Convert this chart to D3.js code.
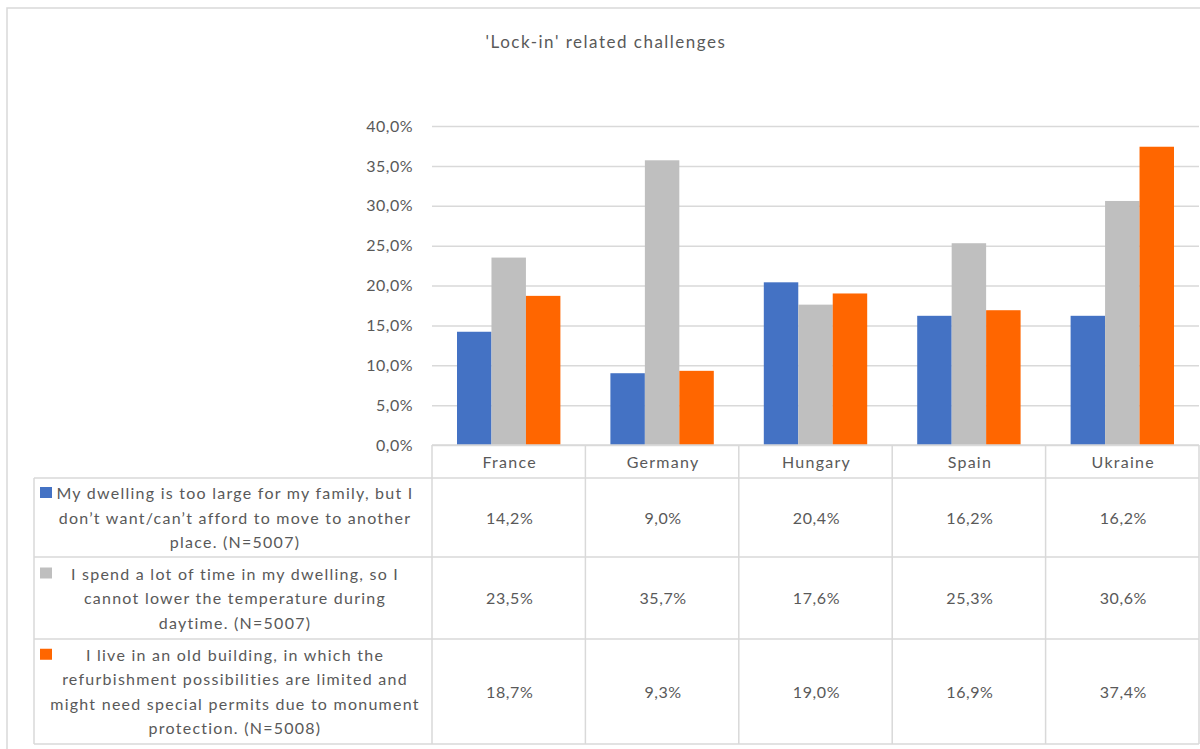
<!DOCTYPE html>
<html>
<head>
<meta charset="utf-8">
<script src="https://cdn.jsdelivr.net/npm/d3@7"></script>
<style>
  html, body { margin: 0; padding: 0; background: #fff; }
  svg { display: block; font-family: Lato, "Open Sans", sans-serif; }
</style>
</head>
<body>
<svg id="chart" width="1200" height="749"></svg>
<script>
// Categories, series and their values
const countries = ["France", "Germany", "Hungary", "Spain", "Ukraine"];
const seriesKeys = ["large", "time", "old"];
const seriesLabels = [
  ["My dwelling is too large for my family,  but I", "don\u2019t want/can\u2019t afford to move to another", "place. (N=5007)"],
  ["I spend a lot of time in my dwelling, so I", "cannot lower the temperature during", "daytime. (N=5007)"],
  ["I live in an old building, in which the", "refurbishment possibilities are limited and", "might need special permits due to monument", "protection. (N=5008)"]
];
const seriesColors = ["#4472C4", "#BFBFBF", "#FF6600"];
const largeValues = [0.142, 0.090, 0.204, 0.162, 0.162];
const timeValues  = [0.235, 0.357, 0.176, 0.253, 0.306];
const oldValues   = [0.187, 0.093, 0.190, 0.169, 0.374];
const yTicks = [0, 0.05, 0.10, 0.15, 0.20, 0.25, 0.30, 0.35, 0.40];
const title = "'Lock-in' related challenges";

const seriesValues = [largeValues, timeValues, oldValues];

const svg = d3.select("#chart");
const textColor = "#595959";
const lineColor = "#D9D9D9";
const fontSize = 16;
const spacing = "1.25px";

const locale = d3.formatLocale({ decimal: ",", thousands: ".", grouping: [3], currency: ["", "\u20AC"] });
const pct = locale.format(".1%");

// Layout
const plotLeft = 432, plotRight = 1199, plotTop = 126, plotBottom = 445;
const legendLeft = 34;
const rowEdges = [plotBottom, 478, 557, 639, 744];

// Outer chart frame
svg.append("rect")
  .attr("x", 7).attr("y", 8)
  .attr("width", 1210).attr("height", 760)
  .attr("fill", "none").attr("stroke", lineColor).attr("stroke-width", 1.5);

// Title
svg.append("text")
  .attr("x", 606).attr("y", 48)
  .attr("text-anchor", "middle")
  .attr("fill", textColor)
  .attr("font-size", 17)
  .attr("letter-spacing", "1.5px")
  .text(title);

const x0 = d3.scaleBand().domain(countries).range([plotLeft, plotRight]);
const bw = x0.bandwidth();
const groupPad = bw * 0.163;
const x1 = d3.scaleBand().domain(seriesKeys).range([groupPad, bw - groupPad]);
const y = d3.scaleLinear().domain([0, 0.4]).range([plotBottom, plotTop]);

// Gridlines and value axis
const yAxis = d3.axisLeft(y).tickValues(yTicks).tickFormat(pct).tickSize(-(plotRight - plotLeft)).tickPadding(19);
const yg = svg.append("g").attr("transform", `translate(${plotLeft},0)`).call(yAxis);
yg.select(".domain").remove();
yg.selectAll(".tick line").attr("stroke", lineColor).attr("stroke-width", 1.5);
yg.selectAll(".tick text")
  .attr("fill", textColor)
  .attr("font-size", fontSize)
  .attr("letter-spacing", "0.5px")
  .attr("font-family", "Lato, sans-serif");

// Bars
const groups = svg.append("g").selectAll("g")
  .data(countries)
  .join("g")
  .attr("transform", d => `translate(${x0(d)},0)`);

groups.selectAll("rect")
  .data((c, i) => seriesKeys.map((k, s) => ({ key: k, s, value: seriesValues[s][i] })))
  .join("rect")
  .attr("x", d => x1(d.key))
  .attr("width", x1.bandwidth())
  .attr("y", d => y(d.value))
  .attr("height", d => y(0) - y(d.value))
  .attr("fill", d => seriesColors[d.s]);

// Data table
const table = svg.append("g").attr("stroke", lineColor).attr("stroke-width", 1.5);
// horizontal rules
table.append("line").attr("x1", plotLeft).attr("x2", plotRight).attr("y1", rowEdges[0]).attr("y2", rowEdges[0]);
rowEdges.slice(1).forEach(ry => {
  table.append("line").attr("x1", legendLeft).attr("x2", plotRight).attr("y1", ry).attr("y2", ry);
});
// vertical rules
table.append("line").attr("x1", legendLeft).attr("x2", legendLeft).attr("y1", rowEdges[1]).attr("y2", rowEdges[4]);
countries.forEach(c => {
  table.append("line").attr("x1", x0(c)).attr("x2", x0(c)).attr("y1", rowEdges[0]).attr("y2", rowEdges[4]);
});
table.append("line").attr("x1", plotRight).attr("x2", plotRight).attr("y1", rowEdges[0]).attr("y2", rowEdges[4]);

// Category labels
svg.append("g").selectAll("text")
  .data(countries)
  .join("text")
  .attr("x", d => x0(d) + bw / 2 + 1)
  .attr("y", (rowEdges[0] + rowEdges[1]) / 2 + 6)
  .attr("text-anchor", "middle")
  .attr("fill", textColor)
  .attr("font-size", fontSize)
  .attr("letter-spacing", spacing)
  .text(d => d);

// Table values
seriesValues.forEach((vals, s) => {
  const cy = (rowEdges[s + 1] + rowEdges[s + 2]) / 2;
  svg.append("g").selectAll("text")
    .data(vals)
    .join("text")
    .attr("x", (v, i) => x0(countries[i]) + bw / 2 + 1)
    .attr("y", cy + 6)
    .attr("text-anchor", "middle")
    .attr("fill", textColor)
    .attr("font-size", fontSize)
    .attr("letter-spacing", "0.6px")
    .text(v => pct(v));
});

// Legend column: colour keys and wrapped series labels
const legendCenter = 234, lineH = 24.5;
seriesLabels.forEach((lines, s) => {
  const top = rowEdges[s + 1], bottom = rowEdges[s + 2];
  const cy = (top + bottom) / 2;
  const firstBase = cy - (lines.length - 1) * lineH / 2 + 6;
  svg.append("rect")
    .attr("x", 40).attr("y", firstBase - 12)
    .attr("width", 12).attr("height", 11)
    .attr("fill", seriesColors[s]);
  svg.append("g").selectAll("text")
    .data(lines)
    .join("text")
    .attr("x", legendCenter + 1)
    .attr("y", (d, i) => firstBase + i * lineH)
    .attr("text-anchor", "middle")
    .attr("fill", textColor)
    .attr("font-size", fontSize)
    .attr("letter-spacing", spacing)
    .text(d => d);
});
</script>
</body>
</html>
